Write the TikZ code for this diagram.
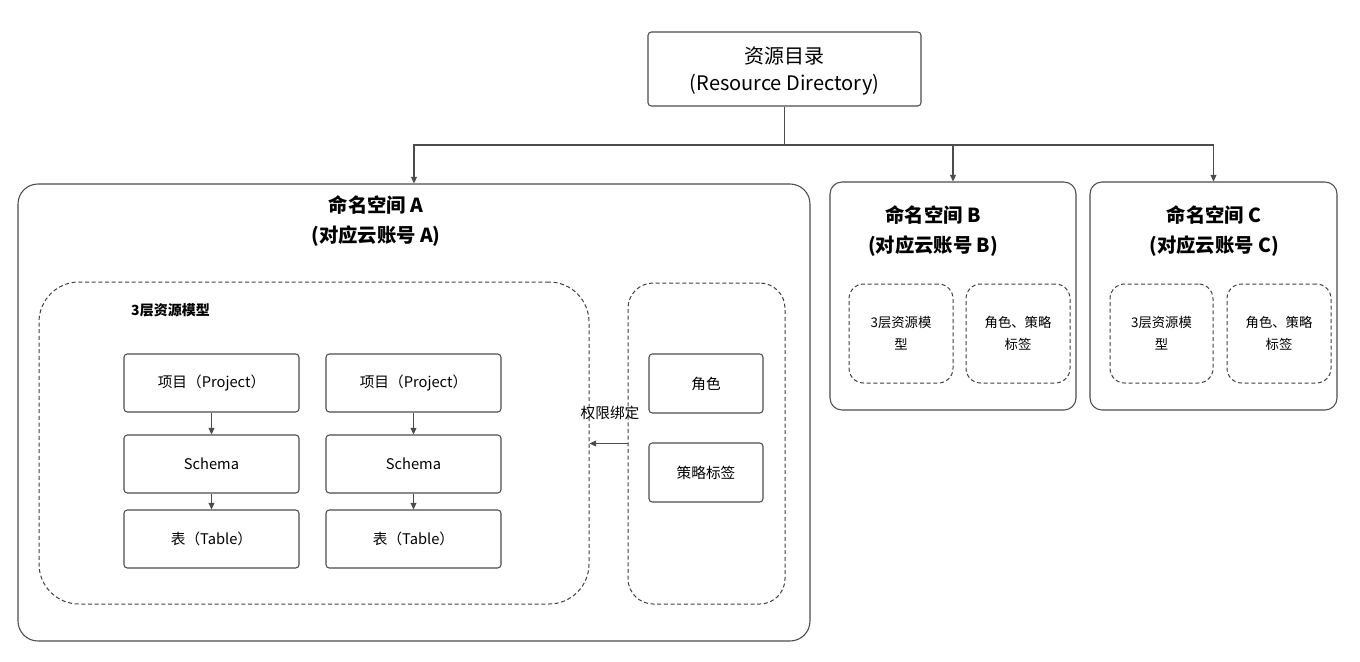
\documentclass[tikz,border=0pt]{standalone}
\usepackage{fontspec}
\setmainfont{Noto Sans CJK SC}
\usetikzlibrary{arrows.meta}

\begin{document}
\begin{tikzpicture}[x=0.75pt,y=-0.75pt,
  line/.style={draw=black!70,line width=0.8pt},
  arr/.style={line,-{Triangle[length=5pt,width=4.5pt]}},
  box node/.style={line,rounded corners=2.5pt,inner sep=0pt,font=\fontsize{11}{14}\selectfont},
  ns node/.style={line,rounded corners=15pt,inner sep=0pt},
  zone node/.style={draw=black!75,dash pattern=on 3pt off 2pt,line width=0.75pt,inner sep=0pt,align=center,font=\fontsize{10}{16.5}\selectfont},
  title node/.style={align=center,font=\fontsize{14.5}{22.5}\selectfont\bfseries}]
  \useasboundingbox (0,0) rectangle (1360,661);

  \node[box node,minimum width=273*0.75pt,minimum height=74*0.75pt] (root) at (784.5,69) {};
  \node[align=center,font=\fontsize{15}{20.5}\selectfont] (tRoot) at (784.5,71) {资源目录\\(Resource Directory)};

  \node[ns node,minimum width=792*0.75pt,minimum height=457*0.75pt] (nsA) at (414,412.5) {};
  \node[ns node,rounded corners=9pt,minimum width=246*0.75pt,minimum height=228*0.75pt] (nsB) at (953,296) {};
  \node[ns node,rounded corners=9pt,minimum width=247*0.75pt,minimum height=228*0.75pt] (nsC) at (1213.5,296) {};

  \node[title node] (tA) at (376,221) {命名空间 A\\(对应云账号 A)};
  \node[title node] (tB) at (933,231) {命名空间 B\\(对应云账号 B)};
  \node[title node] (tC) at (1214,231) {命名空间 C\\(对应云账号 C)};

  \coordinate (split) at (root.south |- 0,145);
  \draw[line] (root.south) -- (split);
  \draw[arr] (split) -| (nsA.north);
  \draw[arr] (split) -| (nsB.north);
  \draw[arr] (split) -| (nsC.north);

  % namespace A
  \node[zone node,rounded corners=30pt,minimum width=550*0.75pt,minimum height=322*0.75pt] (model) at (314,443) {};
  \node[zone node,rounded corners=19pt,minimum width=157*0.75pt,minimum height=321*0.75pt] (perm) at (706.5,443.5) {};
  \node[font=\fontsize{10.5}{13}\selectfont\bfseries] (tModel) at (170.5,310) {3层资源模型};

  \foreach \c/\x in {1/211.5,2/413.5} {
    \node[box node,minimum width=175*0.75pt,minimum height=58*0.75pt] (proj\c) at (\x,383) {项目（Project）};
    \node[box node,minimum width=175*0.75pt,minimum height=58*0.75pt] (schema\c) at (\x,464) {Schema};
    \node[box node,minimum width=175*0.75pt,minimum height=58*0.75pt] (table\c) at (\x,539) {表（Table）};
    \draw[arr] (proj\c) -- (schema\c);
    \draw[arr] (schema\c) -- (table\c);
  }

  \node[box node,minimum width=114*0.75pt,minimum height=59*0.75pt] (role) at (706,383.5) {角色};
  \node[box node,minimum width=114*0.75pt,minimum height=59*0.75pt] (tag) at (706,472.5) {策略标签};

  \draw[arr] (perm.west) -- (model.east |- perm.west);
  \node[font=\fontsize{11}{14}\selectfont] (bind) at (610,413) {权限绑定};

  % namespaces B and C
  \node[zone node,rounded corners=11pt,minimum width=104*0.75pt,minimum height=99*0.75pt] (bModel) at (901,333.5) {3层资源模\\型};
  \node[zone node,rounded corners=11pt,minimum width=104*0.75pt,minimum height=99*0.75pt] (bRole) at (1018,333.5) {角色、策略\\标签};
  \node[zone node,rounded corners=11pt,minimum width=103*0.75pt,minimum height=99*0.75pt] (cModel) at (1161.5,333.5) {3层资源模\\型};
  \node[zone node,rounded corners=11pt,minimum width=104*0.75pt,minimum height=99*0.75pt] (cRole) at (1279,333.5) {角色、策略\\标签};
\end{tikzpicture}
\end{document}
